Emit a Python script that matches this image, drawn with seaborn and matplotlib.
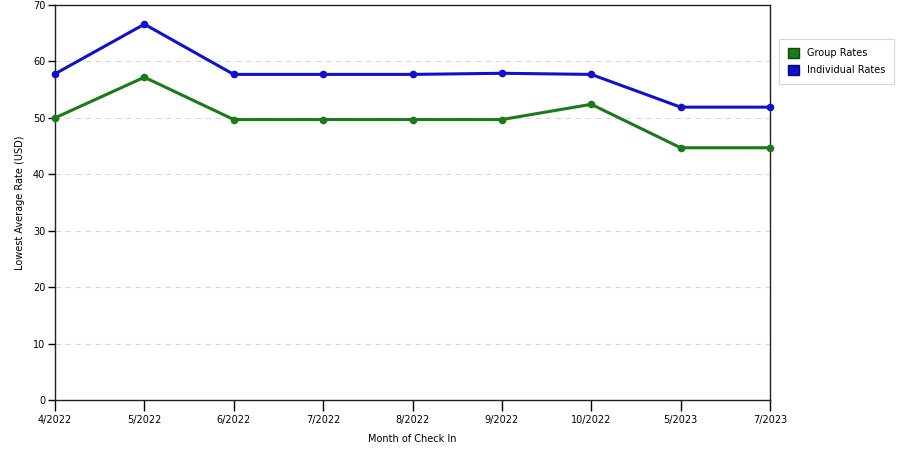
import matplotlib
matplotlib.use("Agg")
import matplotlib.pyplot as plt
import seaborn as sns
import pandas as pd
from matplotlib.patches import Patch

months = ["4/2022", "5/2022", "6/2022", "7/2022", "8/2022", "9/2022", "10/2022", "5/2023", "7/2023"]
group_rates = [50.0, 57.2, 49.7, 49.7, 49.7, 49.7, 52.4, 44.7, 44.7]
individual_rates = [57.8, 66.6, 57.7, 57.7, 57.7, 57.9, 57.7, 51.9, 51.9]

sns.set_theme(style="white")
plt.rcParams['font.family'] = ['DejaVu Sans']
plt.rcParams['text.color'] = 'black'
plt.rcParams['axes.labelcolor'] = 'black'

df = pd.DataFrame({
    "idx": list(range(len(months))) * 2,
    "rate": group_rates + individual_rates,
    "series": ["Group Rates"] * len(months) + ["Individual Rates"] * len(months),
})

fig = plt.figure(figsize=(9, 4.5), dpi=100)
ax = fig.add_axes([55/900, 50/450, 715/900, 395/450])

palette = {"Group Rates": "#1a7a1a", "Individual Rates": "#1010d0"}
sns.lineplot(data=df, x="idx", y="rate", hue="series", palette=palette, ax=ax,
             linewidth=2.2, marker="o", markersize=5.5, markeredgewidth=0,
             legend=False, clip_on=False, zorder=3)

ax.set_xlim(0, len(months) - 1)
ax.set_ylim(0, 70)
ax.set_xticks(range(len(months)))
ax.set_xticklabels(months)
ax.set_yticks(range(0, 71, 10))
ax.tick_params(axis="x", bottom=True, direction="out", length=8, width=1, labelsize=7, colors="black", pad=3)
ax.tick_params(axis="y", left=True, direction="out", length=5, width=1, labelsize=7, colors="black", pad=2)
ax.yaxis.grid(True, linestyle=(0, (5, 4)), color="#d8d8d8", linewidth=0.8)
ax.set_axisbelow(True)
for s in ax.spines.values():
    s.set_visible(True)
    s.set_color("#222222")
    s.set_linewidth(1)

ax.set_xlabel("Month of Check In", fontsize=7, labelpad=6)
ax.set_ylabel("Lowest Average Rate (USD)", fontsize=7, labelpad=6)

handles = [Patch(facecolor=palette["Group Rates"], edgecolor="#0a4a0a", label="Group Rates"),
           Patch(facecolor=palette["Individual Rates"], edgecolor="#0a0a6a", label="Individual Rates")]
leg = fig.legend(handles=handles, loc="upper left", bbox_to_anchor=(779/900, 1 - 39/450),
                 fontsize=7, frameon=True, fancybox=False, edgecolor="#cccccc",
                 handlelength=1.2, handleheight=1.2, borderpad=0.9, labelspacing=0.7,
                 handletextpad=0.8, borderaxespad=0)
leg.get_frame().set_linewidth(0.8)
for t in leg.get_texts():
    t.set_color("black")

fig.savefig("out.png", dpi=100)
